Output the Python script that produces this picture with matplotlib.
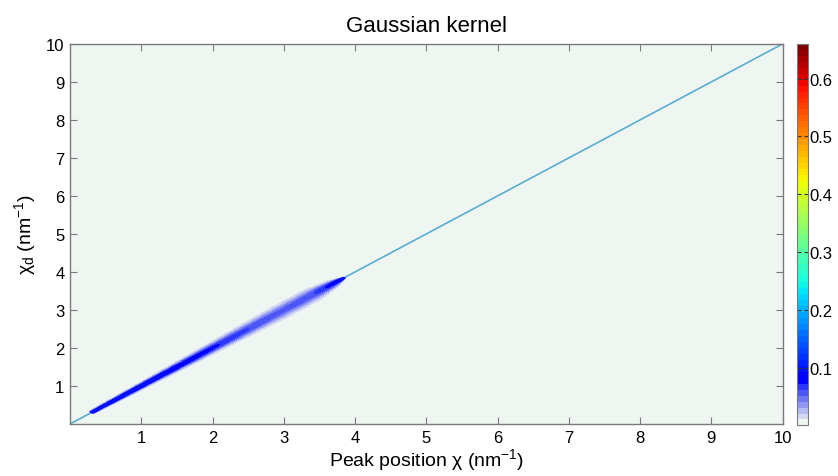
import matplotlib
matplotlib.use('Agg')
import matplotlib.pyplot as plt
import numpy as np
from matplotlib.colors import ListedColormap, BoundaryNorm

plt.rcParams['font.family'] = ['Liberation Sans', 'DejaVu Sans']
plt.rcParams['mathtext.fontset'] = 'custom'
plt.rcParams['mathtext.rm'] = 'Liberation Sans'
plt.rcParams['mathtext.it'] = 'Liberation Sans:italic'

# ridge of the kernel along the diagonal (position, peak height, half-width across)
ridge_pos = [0.30, 0.60, 1.00, 1.50, 2.00, 2.50, 3.00, 3.40, 3.70, 3.85]
ridge_peak = [0.095, 0.100, 0.100, 0.090, 0.075, 0.062, 0.055, 0.060, 0.080, 0.100]
ridge_width = [0.024, 0.030, 0.036, 0.048, 0.062, 0.078, 0.092, 0.090, 0.050, 0.012]

zmax = 0.66
nlev = 64
cbar_ticks = [0.1, 0.2, 0.3, 0.4, 0.5, 0.6]
xticks = [1, 2, 3, 4, 5, 6, 7, 8, 9, 10]
yticks = [1, 2, 3, 4, 5, 6, 7, 8, 9, 10]

bg = '#eff5f1'

# jet colormap with the lowest levels washed out to the background
jet = plt.get_cmap('jet')(np.linspace(0, 1, nlev))
low = [bg, '#d4d8f2', '#b4baf2', '#9298f2', '#7078f4', '#4c56f6', '#2a36fa']
for i, c in enumerate(low):
    jet[i] = matplotlib.colors.to_rgba(c)
cmap = ListedColormap(jet)
levels = np.linspace(0, zmax, nlev + 1)
norm = BoundaryNorm(levels, cmap.N)

# kernel field
g = np.linspace(0, 10, 1201)
X, Y = np.meshgrid(g, g)
S = (X + Y) / 2.0
D = (Y - X) / np.sqrt(2.0)
peak = np.interp(S, ridge_pos, ridge_peak)
wid = np.interp(S, ridge_pos, ridge_width)
Z = peak * np.exp(-D**2 / (2 * wid**2))
Z[(S < ridge_pos[0]) | (S > ridge_pos[-1])] = 0.0

fig = plt.figure(figsize=(8.38, 4.77), dpi=100)
ax = fig.add_axes([0.0835, 0.109, 0.8505, 0.797])
ax.set_facecolor(bg)

ax.plot([0, 10], [0, 10], color='#5aaed2', lw=1.2, zorder=1)
cs = ax.contourf(X, Y, Z, levels=levels[1:], cmap=cmap, norm=norm, zorder=2)

ax.set_xlim(0, 10)
ax.set_ylim(0, 10)
ax.set_xticks(xticks)
ax.set_yticks(yticks)
ax.tick_params(direction='in', length=5, width=0.8, color='#7a7a7a',
               top=True, right=True, labelsize=12, pad=4)
for sp in ax.spines.values():
    sp.set_color('#7a7a7a')
    sp.set_linewidth(1.0)

ax.set_title('Gaussian kernel', fontsize=16, pad=9)
ax.set_xlabel('Peak position χ (nm$^{-1}$)', fontsize=14, labelpad=1)
ax.set_ylabel('χ$_\\mathrm{d}$ (nm$^{-1}$)', fontsize=14, labelpad=6)

cax = fig.add_axes([0.951, 0.106, 0.0131, 0.8])
sm = matplotlib.cm.ScalarMappable(norm=norm, cmap=cmap)
cb = fig.colorbar(sm, cax=cax, boundaries=levels, ticks=cbar_ticks)
cb.outline.set_edgecolor('#7a7a7a')
cax.minorticks_off()
cax.tick_params(direction='in', length=3, color='#333333', labelsize=12,
                left=True, right=True, pad=1)
cax.set_yticklabels([str(t) for t in cbar_ticks])

fig.savefig('out.png', dpi=100)
